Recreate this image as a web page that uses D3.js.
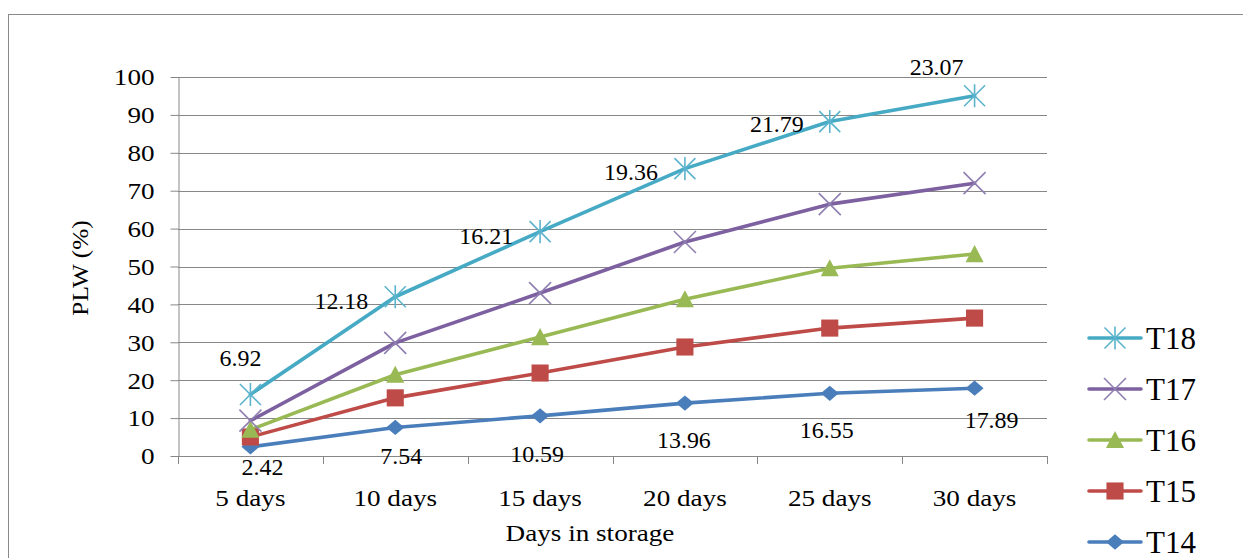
<!DOCTYPE html>
<html>
<head>
<meta charset="utf-8">
<script src="https://cdn.jsdelivr.net/npm/d3@7"></script>
<style>
  html, body { margin: 0; padding: 0; background: #fff; }
  svg { display: block; }
</style>
</head>
<body>
<svg id="chart" width="1243" height="558" font-family="'Liberation Serif', 'DejaVu Serif', serif"></svg>
<script>
// Storage intervals on the x axis
const categories = ["5 days", "10 days", "15 days", "20 days", "25 days", "30 days"];

// Physiological loss in weight (%) per treatment, stacked T14 -> T18
const t14 = [2.42, 7.54, 10.59, 13.96, 16.55, 17.89];
const t15 = [2.6, 7.8, 11.3, 14.8, 17.2, 18.5];
const t16 = [1.9, 6.1, 9.5, 12.6, 15.8, 16.9];
const t17 = [2.4, 8.4, 11.6, 15.1, 16.9, 18.7];
const t18 = [6.92, 12.18, 16.21, 19.36, 21.79, 23.07];

const seriesNames = ["T14", "T15", "T16", "T17", "T18"];
const yTicks = [0, 10, 20, 30, 40, 50, 60, 70, 80, 90, 100];

// Label placement relative to each point: [dx, dy to baseline, anchor]
const t18LabelPlacement = [[-10, -28, "middle"], [-27, 12, "end"], [-27, 12, "end"], [-27, 11, "end"], [-26, 10, "end"], [-38, -21, "middle"]];
const t14LabelPlacement = [[12, 28, "middle"], [6, 37, "middle"], [-3, 46, "middle"], [-1, 45, "middle"], [-3, 45, "middle"], [17, 40, "middle"]];

const styles = {
  T14: { color: "#4a7ebb", marker: "diamond" },
  T15: { color: "#be4b48", marker: "square" },
  T16: { color: "#98b954", marker: "triangle" },
  T17: { color: "#7d60a0", marker: "x", markColor: "#8f7fb0" },
  T18: { color: "#46aac5", marker: "star", markColor: "#5cb3cc" }
};

const FONT = "Liberation Serif";
const svg = d3.select("#chart");
const plot = { left: 178, right: 1047, top: 77, bottom: 456 };
const SX = 1.18; // horizontal widening of the axis lettering

// Serif lettering, optionally widened while staying real text
function serif(sel, size, factor) {
  sel.attr("font-family", FONT).attr("font-size", size).attr("fill", "#000");
  if (factor && factor !== 1) {
    sel.each(function () {
      const w = this.getComputedTextLength();
      d3.select(this).attr("textLength", (w * factor).toFixed(1)).attr("lengthAdjust", "spacingAndGlyphs");
    });
  }
}

// Outer chart frame
svg.append("rect")
  .attr("x", 8.5).attr("y", 14.5)
  .attr("width", 1300).attr("height", 600)
  .attr("fill", "none").attr("stroke", "#8a8a8a").attr("stroke-width", 1);

const x = d3.scaleBand().domain(categories).range([plot.left, plot.right]).padding(0);
const xc = d => x(d) + x.bandwidth() / 2;
const y = d3.scaleLinear().domain([0, 100]).range([plot.bottom, plot.top]);

// Stack the treatments
const rows = categories.map((c, i) => ({ cat: c, T14: t14[i], T15: t15[i], T16: t16[i], T17: t17[i], T18: t18[i] }));
const stacked = d3.stack().keys(seriesNames)(rows);

// Horizontal gridlines
svg.append("g").selectAll("line")
  .data(yTicks.filter(t => t > 0))
  .join("line")
  .attr("x1", plot.left).attr("x2", plot.right)
  .attr("y1", d => Math.round(y(d)) + 0.5).attr("y2", d => Math.round(y(d)) + 0.5)
  .attr("stroke", "#878787").attr("stroke-width", 1);

// Y axis
const yAxis = svg.append("g")
  .attr("transform", `translate(${plot.left + 0.5},0)`)
  .call(d3.axisLeft(y).tickValues(yTicks).tickSize(8).tickSizeOuter(0));
yAxis.attr("font-family", FONT).attr("font-size", 23);
yAxis.select(".domain").attr("stroke", "#878787");
yAxis.selectAll(".tick line").attr("stroke", "#878787");
yAxis.selectAll(".tick text")
  .attr("x", -24).attr("dy", "0.34em")
  .call(serif, 23, SX);

// X axis with ticks at category boundaries
const xg = svg.append("g");
xg.append("line")
  .attr("x1", plot.left).attr("x2", plot.right)
  .attr("y1", plot.bottom + 0.5).attr("y2", plot.bottom + 0.5)
  .attr("stroke", "#878787");
xg.selectAll("line.tick")
  .data(categories.map(c => x(c)).concat([plot.right]))
  .join("line").attr("class", "tick")
  .attr("x1", d => Math.round(d) + 0.5).attr("x2", d => Math.round(d) + 0.5)
  .attr("y1", plot.bottom).attr("y2", plot.bottom + 8)
  .attr("stroke", "#878787");
xg.selectAll("text")
  .data(categories)
  .join("text")
  .attr("x", d => xc(d)).attr("y", plot.bottom + 50)
  .attr("text-anchor", "middle")
  .text(d => d)
  .call(serif, 23, SX);

// Axis titles
svg.append("text")
  .attr("x", 590).attr("y", 541)
  .attr("text-anchor", "middle")
  .text("Days in storage")
  .call(serif, 23, SX);
svg.append("text")
  .attr("transform", "translate(88,268) rotate(-90)")
  .attr("text-anchor", "middle")
  .text("PLW (%)")
  .call(serif, 23, 1.1);

// Marker drawing
function drawMarker(g, type, color, markColor, s) {
  const h = s / 2;
  if (type === "diamond") {
    g.append("path").attr("d", `M0,${-h * 0.85}L${h},0L0,${h * 0.85}L${-h},0Z`).attr("fill", color);
  } else if (type === "square") {
    g.append("rect").attr("x", -h * 0.95).attr("y", -h * 0.95).attr("width", h * 1.9).attr("height", h * 1.9).attr("fill", color);
  } else if (type === "triangle") {
    g.append("path").attr("d", `M0,${-h}L${h},${h * 0.9}L${-h},${h * 0.9}Z`).attr("fill", color);
  } else if (type === "x") {
    g.append("path").attr("d", `M${-h},${-h}L${h},${h}M${-h},${h}L${h},${-h}`)
      .attr("stroke", markColor).attr("stroke-width", 1.6).attr("fill", "none");
  } else if (type === "star") {
    g.append("path").attr("d", `M${-h},${-h}L${h},${h}M${-h},${h}L${h},${-h}M0,${-h * 1.1}L0,${h * 1.1}`)
      .attr("stroke", markColor).attr("stroke-width", 1.6).attr("fill", "none");
  }
}
const markerSize = k => (k === "T17" ? 22 : k === "T18" ? 21 : 18);

const line = d3.line().x(d => xc(d.data.cat)).y(d => y(d[1]));

// Series lines, then markers on top
stacked.forEach(layer => {
  const st = styles[layer.key];
  svg.append("path")
    .datum(layer)
    .attr("d", line)
    .attr("fill", "none")
    .attr("stroke", st.color)
    .attr("stroke-width", 3.6)
    .attr("stroke-linejoin", "round")
    .attr("stroke-linecap", "round");
});
stacked.forEach(layer => {
  const st = styles[layer.key];
  layer.forEach(d => {
    const g = svg.append("g").attr("transform", `translate(${xc(d.data.cat)},${y(d[1])})`);
    drawMarker(g, st.marker, st.color, st.markColor, markerSize(layer.key));
  });
});

// Data labels for the outermost treatments
function labels(key, values, placement) {
  const layer = stacked.find(l => l.key === key);
  svg.append("g").selectAll("text")
    .data(layer)
    .join("text")
    .attr("x", (d, i) => xc(d.data.cat) + placement[i][0])
    .attr("y", (d, i) => y(d[1]) + placement[i][1])
    .attr("text-anchor", (d, i) => placement[i][2])
    .text((d, i) => values[i].toFixed(2))
    .call(serif, 23, 1.04);
}
labels("T18", t18, t18LabelPlacement);
labels("T14", t14, t14LabelPlacement);

// Legend
const legendOrder = ["T18", "T17", "T16", "T15", "T14"];
const legend = svg.append("g");
legendOrder.forEach((k, i) => {
  const st = styles[k];
  const ly = 338 + i * 51;
  const g = legend.append("g").attr("transform", `translate(0,${ly})`);
  g.append("line").attr("x1", 1089).attr("x2", 1141).attr("y1", 0).attr("y2", 0)
    .attr("stroke", st.color).attr("stroke-width", 3.6).attr("stroke-linecap", "round");
  const m = g.append("g").attr("transform", "translate(1115,0)");
  drawMarker(m, st.marker, st.color, st.markColor, markerSize(k));
  g.append("text").attr("x", 1146).attr("y", 10.5)
    .text(k)
    .call(serif, 31, 1);
});
</script>
</body>
</html>
